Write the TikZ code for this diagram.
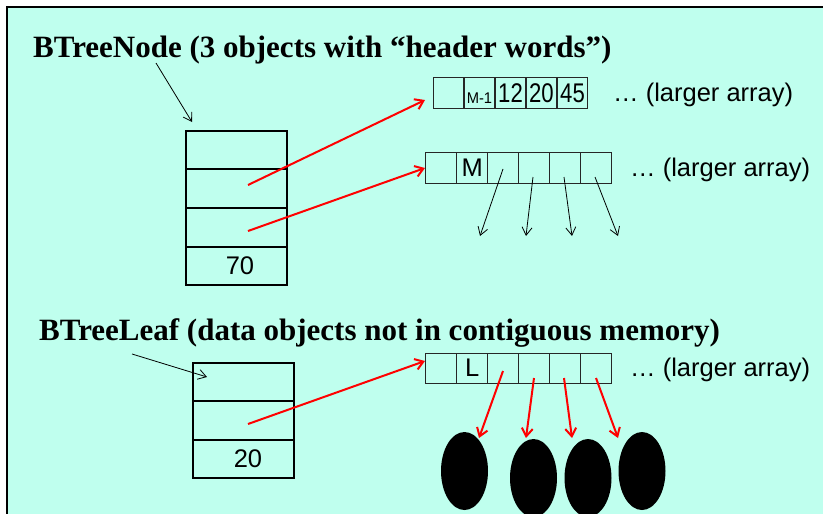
\documentclass[tikz,border=0pt]{standalone}
\usepackage{fontspec}
\setmainfont{Liberation Serif}
\newfontfamily\arialf{Liberation Sans}
\usetikzlibrary{arrows.meta,shapes.geometric}
\definecolor{panelbg}{RGB}{191,255,238}
\begin{document}
\begin{tikzpicture}[x=1pt,y=-1pt,
  titletext/.style={font=\fontsize{31}{36}\selectfont\bfseries, anchor=base west, inner sep=0},
  sanstext/.style={font=\arialf\fontsize{25.5}{30}\selectfont, inner sep=0},
  digits/.style={font=\arialf\fontsize{27}{30}\selectfont, inner sep=0},
  cell/.style={draw=black!85, line width=1pt, minimum width=30.9pt, minimum height=31pt, inner sep=0},
  slot/.style={draw=black, line width=2.5pt, minimum width=101pt, inner sep=0},
  redarrow/.style={draw=red, line width=2pt, -{Straight Barb[length=8pt,width=11pt]}},
  blackarrow/.style={draw=black, line width=0.8pt, -{Straight Barb[length=8pt,width=10pt]}},
  blob/.style={fill=black, ellipse, minimum width=47pt, minimum height=78pt, inner sep=0}
]
\useasboundingbox (0,0) rectangle (823,514);
\fill[white] (0,0) rectangle (823,514);
\fill[panelbg] (7,7) rectangle (823,514);
\draw[line width=2pt] (823,7) -- (7,7) -- (7,514);

% titles
\node[titletext] (t1) at (33,57) {BTreeNode (3 objects with “header words”)};
\node[titletext] (t2) at (39,340) {BTreeLeaf (data objects not in contiguous memory)};

% BTreeNode box
\node[slot, minimum height=38pt] (n1) at (236.5,150) {};
\node[slot, minimum height=39pt] (n2) at (236.5,188.5) {};
\node[slot, minimum height=39pt] (n3) at (236.5,227.5) {};
\node[slot, minimum height=38pt] (n4) at (236.5,266) {};
\node[sanstext] (v70) at (240,266) {70};

% BTreeLeaf box
\node[slot, minimum height=38pt] (l1) at (243.5,382) {};
\node[slot, minimum height=39pt] (l2) at (243.5,420.5) {};
\node[slot, minimum height=38pt] (l3) at (243.5,459) {};
\node[sanstext] (v20) at (248,459) {20};

% top array
\node[cell] (a1) at (448.5,92.5) {};
\node[cell] (a2) at (479.5,92.5) {};
\node[cell] (a3) at (510.5,92.5) {};
\node[cell] (a4) at (541.5,92.5) {};
\node[cell] (a5) at (572.5,92.5) {};
\node[digits] (x12) at (510.5,93) {\scalebox{0.82}[1]{12}};
\node[digits] (x20) at (541.5,93) {\scalebox{0.82}[1]{20}};
\node[digits] (x45) at (572.5,93) {\scalebox{0.82}[1]{45}};
\node[font=\arialf\fontsize{15.5}{17}\selectfont, anchor=base, inner sep=0] (xm1) at (479.5,103.5) {\scalebox{0.95}[1]{M-1}};
\node[sanstext, anchor=base west] (d1) at (613,101) {… (larger array)};

% M array
\foreach \i in {1,...,6} {
  \node[cell] (m\i) at ({426+30.83*(\i-0.5)},167.5) {};
}
\node[sanstext] (xm) at (m2.center) {M};
\node[sanstext, anchor=base west] (d2) at (630,176) {… (larger array)};

% L array
\foreach \i in {1,...,6} {
  \node[cell, minimum height=30pt] (k\i) at ({426+30.83*(\i-0.5)},368) {};
}
\node[sanstext] (xl) at (k2.center) {L};
\node[sanstext, anchor=base west] (d3) at (630,376) {… (larger array)};

% blobs
\node[blob] (b1) at (464.5,471) {};
\node[blob] (b2) at (533.5,478) {};
\node[blob] (b3) at (588,478) {};
\node[blob] (b4) at (642,471) {};

% coordinates
\coordinate (s1) at (248,185);
\coordinate (s2) at (248,231);
\coordinate (s3) at (248,424);
\coordinate (e1) at (425,100);
\coordinate (e2) at (425,168);
\coordinate (e3) at (425,361);
\coordinate (h1) at (156,63);
\coordinate (h2) at (192,122);
\coordinate (h3) at (132,354);
\coordinate (h4) at (207,377);

\draw[blackarrow] (h1) -- (h2);
\draw[blackarrow] (h3) -- (h4);
\draw[redarrow] (s1) -- (e1);
\draw[redarrow] (s2) -- (e2);
\draw[redarrow] (s3) -- (e3);

% M array children (black)
\coordinate (ms1) at (503,169);
\coordinate (ms2) at (533,177);
\coordinate (ms3) at (564,177);
\coordinate (ms4) at (595,177);
\coordinate (c1) at (480,236);
\coordinate (c2) at (526,236);
\coordinate (c3) at (572,236);
\coordinate (c4) at (618,236);
\draw[blackarrow] (ms1) -- (c1);
\draw[blackarrow] (ms2) -- (c2);
\draw[blackarrow] (ms3) -- (c3);
\draw[blackarrow] (ms4) -- (c4);

% L array children (red)
\coordinate (ks1) at (503,371);
\coordinate (ks2) at (534,378);
\coordinate (ks3) at (564,378);
\coordinate (ks4) at (596,378);
\coordinate (q1) at (479,438);
\coordinate (q2) at (526,438);
\coordinate (q3) at (572,438);
\coordinate (q4) at (618,438);
\draw[redarrow] (ks1) -- (q1);
\draw[redarrow] (ks2) -- (q2);
\draw[redarrow] (ks3) -- (q3);
\draw[redarrow] (ks4) -- (q4);
\end{tikzpicture}
\end{document}
